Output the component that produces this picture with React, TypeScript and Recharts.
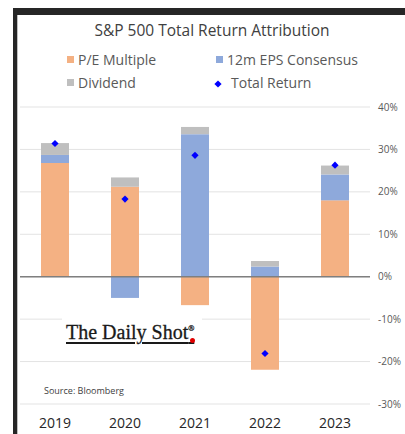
import React from 'react';
import { ComposedChart, Bar, Scatter, XAxis, YAxis, CartesianGrid, ReferenceLine } from 'recharts';

const years = ['2019', '2020', '2021', '2022', '2023'];
const peMultiple = [26.8, 21.2, -6.7, -21.9, 18.0];
const epsConsensus = [1.9, -5.0, 33.6, 2.4, 6.1];
const dividend = [2.8, 2.2, 1.7, 1.3, 2.1];
const totalReturn = [31.4, 18.3, 28.6, -18.1, 26.3];
const yTicks = [-30, -20, -10, 0, 10, 20, 30, 40];

const data = years.map((year, i) => ({
  year,
  pe: peMultiple[i],
  eps: epsConsensus[i],
  div: dividend[i],
  total: totalReturn[i],
}));

const C_PE = '#F4B183';
const C_EPS = '#8EA9DB';
const C_DIV = '#BFBFBF';
const C_TOT = '#0000FF';
const FONT = '"Open Sans", "Liberation Sans", sans-serif';

const Diamond = (props: any) => {
  const { cx, cy } = props;
  if (cx == null || cy == null) return null;
  const r = 3.6;
  return (
    <polygon
      points={`${cx},${cy - r} ${cx + r},${cy} ${cx},${cy + r} ${cx - r},${cy}`}
      fill={C_TOT}
    />
  );
};

const legendText: React.CSSProperties = {
  position: 'absolute',
  fontFamily: FONT,
  fontSize: 14,
  color: '#595959',
  lineHeight: '16px',
  whiteSpace: 'nowrap',
};

const sq = (left: number, top: number, color: string): React.CSSProperties => ({
  position: 'absolute',
  left,
  top,
  width: 7,
  height: 7,
  background: color,
});

export default function App() {
  return (
    <div style={{ position: 'absolute', left: 0, top: 0, width: 405, height: 434, background: '#fff', overflow: 'hidden' }}>
      {/* frame */}
      <div style={{ position: 'absolute', left: 13, top: 8, width: 392, height: 7, background: '#262626' }} />
      <div style={{ position: 'absolute', left: 13, top: 8, width: 4, height: 426, background: '#262626' }} />
      <div style={{ position: 'absolute', left: 17, top: 15, width: 1, height: 419, background: '#bfbfbf' }} />

      <div style={{ position: 'absolute', left: 0, top: 0 }}>
        <ComposedChart
          width={405}
          height={434}
          data={data}
          stackOffset="sign"
          barCategoryGap="30%"
          margin={{ top: 107, right: 0, bottom: 0, left: 20 }}
        >
          <CartesianGrid vertical={false} stroke="#E3E3E3" strokeWidth={1} />
          <XAxis
            dataKey="year"
            height={30}
            axisLine={false}
            tickLine={false}
            tickMargin={8}
            tick={{ fill: '#262626', fontSize: 14, fontFamily: FONT }}
          />
          <YAxis
            orientation="right"
            width={35}
            domain={[-30, 40]}
            ticks={yTicks}
            allowDataOverflow
            axisLine={false}
            tickLine={false}
            tickFormatter={(v: number) => `${v}%`}
            tick={{ fill: '#595959', fontSize: 10, fontFamily: FONT }}
          />
          <Bar dataKey="pe" stackId="a" fill={C_PE} isAnimationActive={false} />
          <Bar dataKey="eps" stackId="a" fill={C_EPS} isAnimationActive={false} />
          <Bar dataKey="div" stackId="a" fill={C_DIV} isAnimationActive={false} />
          <ReferenceLine y={0} stroke="#7F7F7F" strokeWidth={1.5} />
          <Scatter dataKey="total" fill={C_TOT} shape={<Diamond />} isAnimationActive={false} />
        </ComposedChart>
      </div>

      {/* title */}
      <div
        style={{
          position: 'absolute',
          left: 0,
          width: 424,
          top: 20,
          textAlign: 'center',
          fontFamily: FONT,
          fontSize: 15.5,
          color: '#404040',
          lineHeight: '20px',
        }}
      >
        S&amp;P 500 Total Return Attribution
      </div>

      {/* legend */}
      <div style={sq(67, 56, C_PE)} />
      <div style={{ ...legendText, left: 78, top: 52 }}>P/E Multiple</div>
      <div style={sq(216, 56, C_EPS)} />
      <div style={{ ...legendText, left: 227, top: 52 }}>12m EPS Consensus</div>
      <div style={sq(67, 79, C_DIV)} />
      <div style={{ ...legendText, left: 78, top: 75 }}>Dividend</div>
      <svg style={{ position: 'absolute', left: 214, top: 80 }} width={8} height={8}>
        <polygon points="4,0.4 7.6,4 4,7.6 0.4,4" fill={C_TOT} />
      </svg>
      <div style={{ ...legendText, left: 231, top: 75 }}>Total Return</div>

      {/* watermark */}
      <div
        style={{
          position: 'absolute',
          left: 62,
          top: 318,
          width: 140,
          height: 28,
          background: '#fff',
        }}
      />
      <div
        style={{
          position: 'absolute',
          left: 66,
          top: 318,
          fontFamily: '"Liberation Serif", "DejaVu Serif", serif',
          fontSize: 20,
          color: '#1a1a1a',
          lineHeight: '22px',
          whiteSpace: 'nowrap',
          textDecoration: 'underline',
          textDecorationThickness: '1.5px',
          textUnderlineOffset: '3px',
          textDecorationSkipInk: 'auto',
          WebkitTextStroke: '0.3px #1a1a1a',
        }}
      >
        The Daily Shot<sup style={{ fontSize: 8 }}>®</sup>
      </div>
      <div
        style={{
          position: 'absolute',
          left: 190,
          top: 338,
          width: 5,
          height: 5,
          borderRadius: '50%',
          background: '#E00000',
        }}
      />

      {/* source */}
      <div
        style={{
          position: 'absolute',
          left: 44,
          top: 384,
          fontFamily: FONT,
          fontSize: 9,
          color: '#404040',
          whiteSpace: 'nowrap',
        }}
      >
        Source: Bloomberg
      </div>
    </div>
  );
}
